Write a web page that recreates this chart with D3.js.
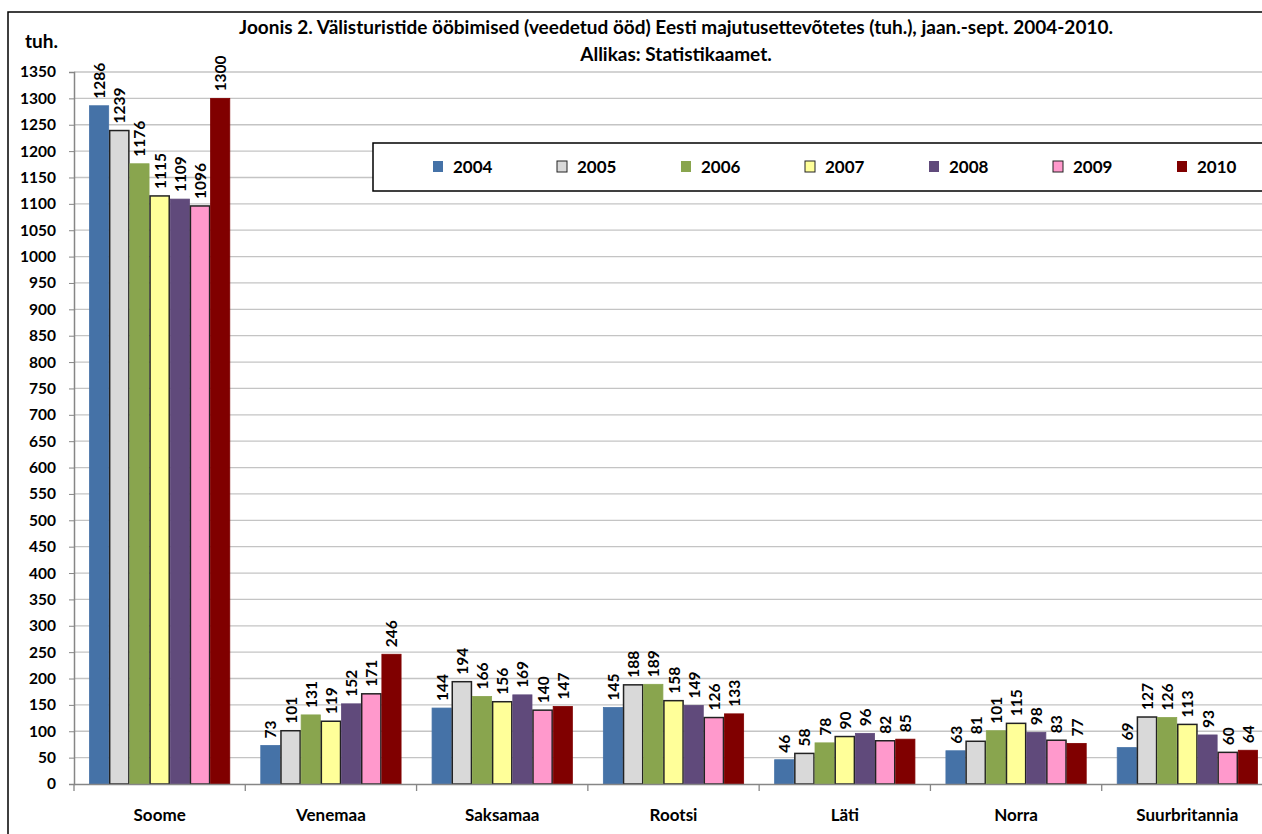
<!DOCTYPE html>
<html><head><meta charset="utf-8">
<script src="https://cdn.jsdelivr.net/npm/d3@7"></script>
<style>
body{margin:0;background:#fff;}
svg text{font-family:Lato,"Liberation Sans",sans-serif;font-weight:bold;fill:#000;}
</style></head>
<body><svg id="c" width="1262" height="834"></svg>
<script>
const categories = ["Soome","Venemaa","Saksamaa","Rootsi","Läti","Norra","Suurbritannia"];
const years = ["2004","2005","2006","2007","2008","2009","2010"];
const v2004 = [1286,73,144,145,46,63,69];
const v2005 = [1239,101,194,188,58,81,127];
const v2006 = [1176,131,166,189,78,101,126];
const v2007 = [1115,119,156,158,90,115,113];
const v2008 = [1109,152,169,149,96,98,93];
const v2009 = [1096,171,140,126,82,83,60];
const v2010 = [1300,246,147,133,85,77,64];
const series = [v2004,v2005,v2006,v2007,v2008,v2009,v2010];
const yTicks = d3.range(0,1351,50);
const colors = ["#4572A7","#D9D9D9","#89A54E","#FFFF99","#604A7B","#FF99CC","#800000"];
const strokes = ["#4572A7","#222","#89A54E","#222","#604A7B","#222","#800000"];
const titleLines = ["Joonis 2. Välisturistide ööbimised (veedetud ööd) Eesti majutusettevõtetes (tuh.), jaan.-sept. 2004-2010.","Allikas: Statistikaamet."];

const svg = d3.select("#c");
const x0 = 74, plotRight = 1273, yBottom = 784, yTop = 72;
const x = d3.scaleBand().domain(categories).range([x0, plotRight]);
const y = d3.scaleLinear().domain([0,1350]).range([yBottom, yTop]);
const bw = x.bandwidth();
const gap = bw*30/171.3/2;
const xi = d3.scaleBand().domain(years).range([gap, bw-gap]);

// outer border
svg.append("rect").attr("x",8).attr("y",12).attr("width",1300).attr("height",900)
  .attr("fill","none").attr("stroke","#000").attr("stroke-width",1.5);

// gridlines
svg.append("g").selectAll("line").data(yTicks.filter(d=>d>0)).join("line")
  .attr("x1",x0).attr("x2",1262).attr("y1",d=>y(d)).attr("y2",d=>y(d))
  .attr("stroke","#C4C4C4").attr("stroke-width",1.3);

// y axis
const ya = svg.append("g").attr("transform",`translate(${x0},0)`)
  .call(d3.axisLeft(y).tickValues(yTicks).tickFormat(d3.format("d")).tickSize(5).tickPadding(13));
ya.select(".domain").attr("stroke","#868686").attr("stroke-width",1.5);
ya.selectAll(".tick line").attr("stroke","#868686");
ya.selectAll("text").attr("font-size","15.5px").attr("font-family","Lato").attr("font-weight","bold").attr("fill","#000");

// bars
const g = svg.append("g");
categories.forEach((c,ci)=>{
  series.forEach((s,si)=>{
    const v = s[ci];
    const bx = x(c)+xi(years[si]);
    g.append("rect").attr("x",bx+0.5).attr("y",y(v)).attr("width",xi.bandwidth()-1).attr("height",yBottom-y(v))
      .attr("fill",colors[si]).attr("stroke",strokes[si]).attr("stroke-width",si%2===1?1.5:0.8);
    g.append("text").attr("transform",`translate(${bx+xi.bandwidth()/2+6},${y(v)-7}) rotate(-90)`)
      .attr("font-size","15.5px").attr("text-anchor","start").text(v);
  });
});

// x axis
const xa = svg.append("g").attr("transform",`translate(0,${yBottom})`)
  .call(d3.axisBottom(x).tickSize(0).tickPadding(25));
xa.select(".domain").attr("stroke","#868686").attr("stroke-width",1.5);
xa.selectAll("text").attr("font-size","17px").attr("font-family","Lato").attr("font-weight","bold").attr("fill","#000");
svg.append("g").selectAll("line").data(d3.range(categories.length+1)).join("line")
  .attr("x1",d=>x0+d*x.step()).attr("x2",d=>x0+d*x.step()).attr("y1",yBottom).attr("y2",yBottom+7)
  .attr("stroke","#868686").attr("stroke-width",1.3);

// title
svg.append("text").attr("x",676).attr("y",34).attr("text-anchor","middle").attr("font-size","19px").text(titleLines[0]);
svg.append("text").attr("x",676).attr("y",61).attr("text-anchor","middle").attr("font-size","19px").text(titleLines[1]);
svg.append("text").attr("x",25).attr("y",48).attr("font-size","19px").text("tuh.");

// legend
svg.append("rect").attr("x",373).attr("y",143).attr("width",1000).attr("height",48)
  .attr("fill","#fff").attr("stroke","#000").attr("stroke-width",1.5);
const lg = svg.append("g");
years.forEach((yr,i)=>{
  const lx = 433 + i*124;
  lg.append("rect").attr("x",lx).attr("y",161).attr("width",10).attr("height",11)
    .attr("fill",colors[i]).attr("stroke",i%2===1?"#222":colors[i]).attr("stroke-width",i%2===1?1:0);
  lg.append("text").attr("x",lx+20).attr("y",173).attr("font-size","17px").text(yr);
});
</script></body></html>
